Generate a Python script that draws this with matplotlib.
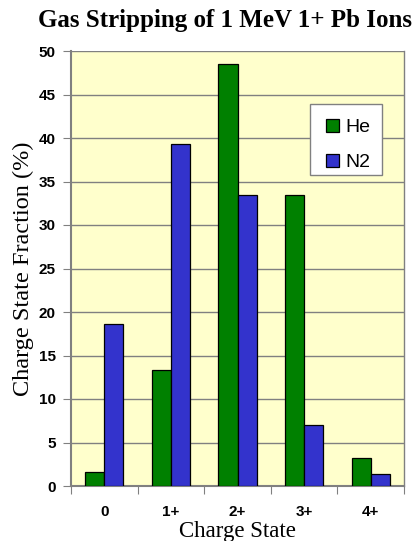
import matplotlib
matplotlib.use("Agg")
import matplotlib.pyplot as plt
from matplotlib.patches import Rectangle
import numpy as np

categories = ["0", "1+", "2+", "3+", "4+"]
he_values = [1.6, 13.3, 48.5, 33.4, 3.2]
n2_values = [18.6, 39.3, 33.5, 7.0, 1.4]
series_names = ["He", "N2"]
y_ticks = [0, 5, 10, 15, 20, 25, 30, 35, 40, 45, 50]

W, H = 415, 541
L, R, T, B = 71, 404, 51, 486

fig = plt.figure(figsize=(W / 100, H / 100), dpi=100)
ax = fig.add_axes([L / W, 1 - B / H, (R - L) / W, (B - T) / H])
ax.set_facecolor("#FFFFCC")

x = np.arange(len(categories))
w = 0.286
ax.bar(x - w / 2, he_values, w, color="#008000", edgecolor="black", linewidth=0.9,
       label=series_names[0], zorder=3)
ax.bar(x + w / 2, n2_values, w, color="#3333CC", edgecolor="black", linewidth=0.9,
       label=series_names[1], zorder=3)

ax.set_xlim(-0.5, len(categories) - 0.5)
ax.set_ylim(0, 50)
ax.set_yticks(y_ticks)
ax.set_xticks(np.arange(-0.5, len(categories)), minor=False)
ax.set_xticklabels([])
ax.set_xticks(x, minor=True)
ax.set_xticklabels(categories, minor=True)
ax.tick_params(axis="x", which="major", length=6, color="#808080", direction="out")
ax.tick_params(axis="x", which="minor", length=0, pad=14)
ax.tick_params(axis="y", length=6, color="#808080", direction="out", pad=5)
for lab in ax.get_yticklabels() + ax.get_xticklabels(minor=True):
    lab.set_fontfamily("Liberation Sans")
    lab.set_fontweight("bold")
    lab.set_fontsize(11)

ax.yaxis.grid(True, color="#808080", linewidth=1.0, zorder=0)
ax.set_axisbelow(True)
for side in ["top", "right"]:
    ax.spines[side].set_visible(False)
ax.spines["left"].set_color("#808080")
ax.spines["left"].set_linewidth(1.5)
ax.spines["bottom"].set_color("#808080")
ax.spines["bottom"].set_linewidth(1.5)
ax.plot([1, 1], [0, 1], transform=ax.transAxes, color="#808080", linewidth=1.0, clip_on=False)

ax.set_xlabel("Charge State", fontfamily="Liberation Serif", fontsize=16.5, labelpad=1)
ax.yaxis.set_label_coords(-(L - 23) / (R - L), 1 - ((90 + 332) / 2 - T) / (B - T))
ax.set_ylabel("Charge State Fraction (%)", fontfamily="Liberation Serif", fontsize=17.5,
              va="center")

fig.text(225 / W, 1 - 21 / H, "Gas Stripping of 1 MeV 1+ Pb Ions", ha="center", va="center",
         fontfamily="Liberation Serif", fontweight="bold", fontsize=18)


def ax_frac(px, py):
    return (px - L) / (R - L), 1 - (py - T) / (B - T)


# legend frame
fx0, fy1 = ax_frac(310, 104)
fx1, fy0 = ax_frac(382, 175)
ax.add_patch(Rectangle((fx0, fy0), fx1 - fx0, fy1 - fy0, transform=ax.transAxes,
                       facecolor="white", edgecolor="#808080", linewidth=1.0, zorder=5))

lx, ly = ax_frac(326, 119)
leg = ax.legend(loc="upper left", bbox_to_anchor=(lx, ly), frameon=False,
                prop={"family": "Liberation Sans", "size": 14},
                handlelength=0.65, handleheight=0.65, handletextpad=0.35,
                labelspacing=0.9, borderpad=0, borderaxespad=0)
leg.set_zorder(6)

fig.savefig("out.png", dpi=100)
